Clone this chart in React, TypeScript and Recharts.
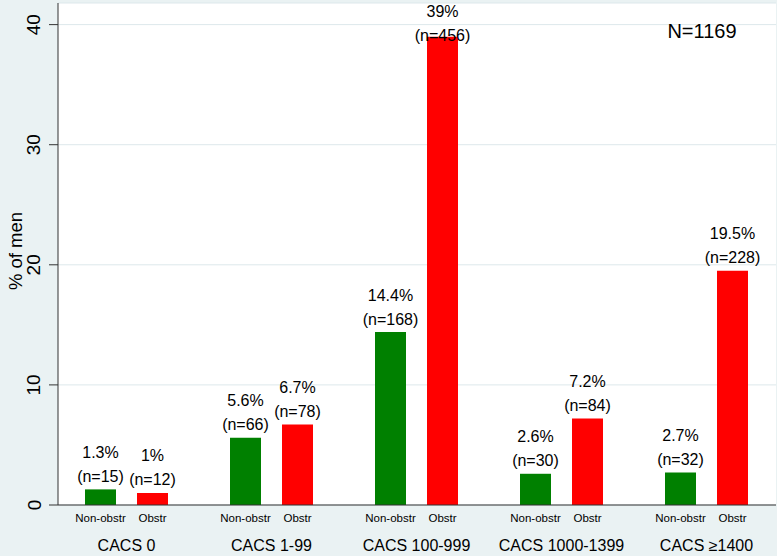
import React from "react";
import { BarChart, Bar, XAxis, YAxis, CartesianGrid, LabelList } from "recharts";

const groups = ["CACS 0", "CACS 1-99", "CACS 100-999", "CACS 1000-1399", "CACS \u22651400"];
const nonObstrPct = [1.3, 5.6, 14.4, 2.6, 2.7];
const obstrPct = [1, 6.7, 39, 7.2, 19.5];
const nonObstrN = [15, 66, 168, 30, 32];
const obstrN = [12, 78, 456, 84, 228];
const subLabels = ["Non-obstr", "Obstr"];
const yTicks = [0, 10, 20, 30, 40];
const totalN = 1169;
const yAxisTitle = "% of men";

const data = groups.map((g, i) => ({
  group: g,
  nonObstr: nonObstrPct[i],
  obstr: obstrPct[i],
}));

const FONT = "'Liberation Sans', Arial, Helvetica, sans-serif";
const GREEN = "#008000";
const RED = "#ff0000";
const BG = "#eaf2f3";

const makeLabel = (nArr: number[]) => (props: any) => {
  const { x, y, width, value, index } = props;
  const cx = Number(x) + Number(width) / 2;
  const pctY = Math.max(Number(y) - 37, 11);
  const nY = pctY + 24;
  return (
    <g>
      <text x={cx} y={pctY} textAnchor="middle" dominantBaseline="central" fontSize={16} fill="#000" fontFamily={FONT}>
        {`${value}%`}
      </text>
      <text x={cx} y={nY} textAnchor="middle" dominantBaseline="central" fontSize={16} fill="#000" fontFamily={FONT}>
        {`(n=${nArr[index]})`}
      </text>
    </g>
  );
};

const YTick = (props: any) => {
  const { y, payload } = props;
  const tx = 34;
  return (
    <text
      x={tx}
      y={y}
      transform={`rotate(-90 ${tx} ${y})`}
      textAnchor="middle"
      dominantBaseline="central"
      fontSize={19}
      fill="#000"
      fontFamily={FONT}
    >
      {payload.value}
    </text>
  );
};

const XTick = (props: any) => {
  const { x, payload } = props;
  const base = 505;
  return (
    <g>
      <text x={x - 26} y={base + 13} textAnchor="middle" dominantBaseline="central" fontSize={11.5} fill="#000" fontFamily={FONT}>
        {subLabels[0]}
      </text>
      <text x={x + 26} y={base + 13} textAnchor="middle" dominantBaseline="central" fontSize={11.5} fill="#000" fontFamily={FONT}>
        {subLabels[1]}
      </text>
      <text x={x} y={base + 40} textAnchor="middle" dominantBaseline="central" fontSize={16} fill="#000" fontFamily={FONT}>
        {payload.value}
      </text>
    </g>
  );
};

const YLabel = () => (
  <text
    x={15}
    y={251}
    transform="rotate(-90 15 251)"
    textAnchor="middle"
    dominantBaseline="central"
    fontSize={18.5}
    fill="#000"
    fontFamily={FONT}
  >
    {yAxisTitle}
  </text>
);

export default function App() {
  return (
    <div style={{ position: "relative", width: 780, height: 559, background: "#fff" }}>
      <style>{`body{margin:0}`}</style>
      <div style={{ position: "absolute", left: 0, top: 0, width: 777, height: 556, background: BG }} />
      <div style={{ position: "absolute", left: 0, top: 0 }}>
        <BarChart
          width={780}
          height={559}
          data={data}
          margin={{ top: 3, right: 4, left: 0, bottom: 4 }}
          barSize={31}
          barGap={21}
        >
          <CartesianGrid horizontal={true} vertical={false} stroke="#dde8eb" fill="#ffffff" fillOpacity={1} />
          <XAxis
            dataKey="group"
            height={50}
            tickLine={false}
            tickSize={0}
            tickMargin={0}
            axisLine={{ stroke: "#333", strokeWidth: 1 }}
            tick={<XTick />}
            interval={0}
            padding={{ left: -4, right: -3 }}
          />
          <YAxis
            width={58}
            domain={[0, 41.8]}
            ticks={yTicks}
            tickSize={9}
            tickMargin={2}
            tickLine={{ stroke: "#333" }}
            axisLine={{ stroke: "#333", strokeWidth: 1 }}
            tick={<YTick />}
            allowDataOverflow={true}
            label={<YLabel />}
          />
          <Bar dataKey="nonObstr" fill={GREEN} isAnimationActive={false}>
            <LabelList dataKey="nonObstr" content={makeLabel(nonObstrN)} />
          </Bar>
          <Bar dataKey="obstr" fill={RED} isAnimationActive={false}>
            <LabelList dataKey="obstr" content={makeLabel(obstrN)} />
          </Bar>
        </BarChart>
      </div>
      <div
        style={{
          position: "absolute",
          left: 702,
          top: 31,
          transform: "translate(-50%, -50%)",
          fontFamily: FONT,
          fontSize: 20,
          color: "#000",
          whiteSpace: "nowrap",
          lineHeight: 1,
        }}
      >
        {`N=${totalN}`}
      </div>
    </div>
  );
}
